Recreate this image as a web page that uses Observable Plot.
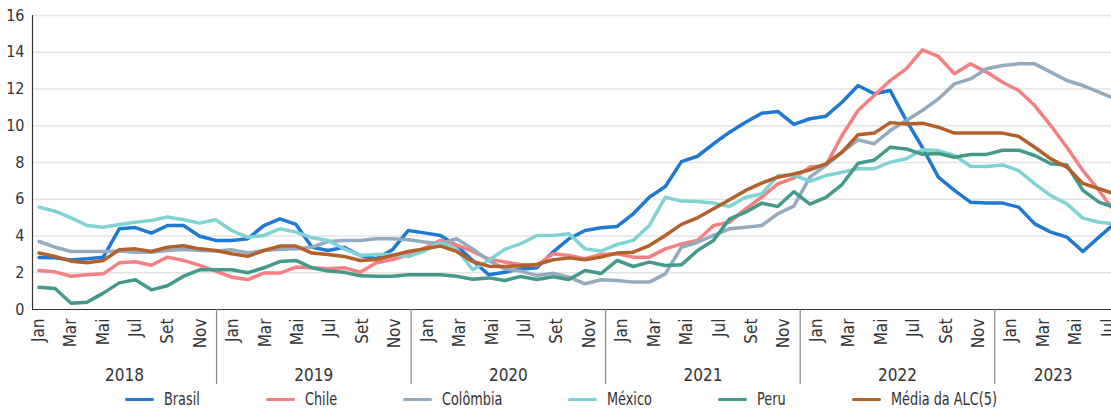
<!DOCTYPE html>
<html>
<head>
<meta charset="utf-8">
<script src="https://cdn.jsdelivr.net/npm/d3@7"></script>
<script src="https://cdn.jsdelivr.net/npm/@observablehq/plot@0.6"></script>
<style>
  html, body { margin: 0; padding: 0; background: #fff; }
  body { font-family: "Liberation Sans Narrow", "DejaVu Sans Condensed", "Liberation Sans", sans-serif; color: #333; width: 1111px; overflow: hidden; }
  #chart svg { display: block; }
  #legend { display: flex; gap: 66px; padding-left: 125px; height: 19px; align-items: center; font-size: 17px; line-height: 19px; white-space: nowrap; }
  #legend .item { display: flex; align-items: center; gap: 10px; }
  #legend .sw { width: 29px; height: 3.5px; border-radius: 2px; }
  #legend .tx { display: inline-block; transform-origin: 0 50%; }
</style>
</head>
<body>
<div id="chart"></div>
<div id="legend"></div>
<script>
// ---- data (12-month inflation, %), Jan 2018 – Aug 2023 ----
const series = ["Brasil", "Chile", "Colômbia", "México", "Peru", "Média da ALC(5)"];
const colors = ["#1f78d1", "#f67f7f", "#94abbf", "#80d3d4", "#44998a", "#b3602b"];
const monthNames = ["Jan", "Fev", "Mar", "Abr", "Mai", "Jun", "Jul", "Ago", "Set", "Out", "Nov", "Dez"];
const years = [2018, 2019, 2020, 2021, 2022, 2023];
const tickMonths = ["Jan", "Mar", "Mai", "Jul", "Set", "Nov"];
const lastAxisMonth = "Jul 2023";
const yTicks = [0, 2, 4, 6, 8, 10, 12, 14, 16];

const brasil = [
  2.83, 2.81, 2.70, 2.76, 2.85, 4.39, 4.46, 4.16, 4.57, 4.57, 3.99, 3.76,
  3.76, 3.85, 4.57, 4.93, 4.63, 3.39, 3.21, 3.39, 2.94, 2.76, 3.25, 4.30,
  4.17, 4.03, 3.48, 2.67, 1.89, 2.03, 2.21, 2.27, 3.12, 3.85, 4.30, 4.45,
  4.52, 5.21, 6.11, 6.69, 8.05, 8.34, 9.02, 9.65, 10.19, 10.68, 10.78, 10.07,
  10.38, 10.52, 11.28, 12.19, 11.74, 11.92, 10.29, 8.83, 7.20, 6.48, 5.84, 5.80,
  5.79, 5.57, 4.66, 4.21, 3.94, 3.16, 3.94, 4.70
];
const chile = [
  2.12, 2.05, 1.81, 1.89, 1.94, 2.54, 2.60, 2.41, 2.85, 2.67, 2.40, 2.09,
  1.76, 1.63, 1.98, 1.98, 2.31, 2.27, 2.22, 2.27, 2.03, 2.54, 2.72, 2.98,
  3.34, 3.76, 3.52, 3.16, 2.74, 2.58, 2.45, 2.40, 3.03, 2.94, 2.76, 2.99,
  3.03, 2.85, 2.85, 3.30, 3.57, 3.76, 4.57, 4.75, 5.48, 6.11, 6.84, 7.15,
  7.75, 7.84, 9.47, 10.83, 11.65, 12.46, 13.10, 14.13, 13.77, 12.83, 13.37, 12.92,
  12.37, 11.92, 11.10, 10.01, 8.83, 7.56, 6.48, 5.30
];
const colombia = [
  3.70, 3.39, 3.16, 3.16, 3.16, 3.18, 3.12, 3.12, 3.21, 3.27, 3.21, 3.18,
  3.25, 3.07, 3.21, 3.28, 3.30, 3.39, 3.70, 3.76, 3.76, 3.85, 3.85, 3.80,
  3.67, 3.58, 3.85, 3.30, 2.67, 2.21, 2.09, 1.85, 1.98, 1.76, 1.40, 1.62,
  1.58, 1.49, 1.49, 1.94, 3.39, 3.66, 4.03, 4.39, 4.48, 4.57, 5.21, 5.63,
  7.20, 7.84, 8.56, 9.23, 9.02, 9.74, 10.29, 10.83, 11.46, 12.28, 12.55, 13.10,
  13.28, 13.37, 13.37, 12.92, 12.46, 12.19, 11.83, 11.46
];
const mexico = [
  5.57, 5.35, 4.99, 4.57, 4.48, 4.63, 4.75, 4.85, 5.03, 4.88, 4.70, 4.88,
  4.30, 3.93, 4.03, 4.39, 4.21, 3.90, 3.76, 3.30, 2.94, 2.99, 2.99, 2.88,
  3.18, 3.63, 3.30, 2.16, 2.67, 3.27, 3.58, 4.03, 4.03, 4.12, 3.30, 3.18,
  3.54, 3.76, 4.57, 6.11, 5.90, 5.88, 5.79, 5.61, 6.11, 6.29, 7.29, 7.31,
  6.98, 7.29, 7.47, 7.66, 7.66, 8.02, 8.20, 8.69, 8.65, 8.38, 7.80, 7.78,
  7.87, 7.56, 6.84, 6.20, 5.75, 4.97, 4.75, 4.66
];
const peru = [
  1.21, 1.14, 0.34, 0.40, 0.89, 1.45, 1.62, 1.07, 1.29, 1.81, 2.16, 2.16,
  2.16, 2.00, 2.27, 2.61, 2.67, 2.27, 2.09, 2.03, 1.83, 1.81, 1.81, 1.89,
  1.89, 1.89, 1.81, 1.65, 1.72, 1.58, 1.80, 1.63, 1.78, 1.63, 2.12, 1.96,
  2.67, 2.34, 2.58, 2.39, 2.43, 3.21, 3.76, 4.93, 5.30, 5.79, 5.61, 6.41,
  5.73, 6.10, 6.80, 7.96, 8.13, 8.83, 8.74, 8.45, 8.49, 8.29, 8.44, 8.44,
  8.67, 8.67, 8.38, 7.93, 7.87, 6.48, 5.84, 5.55
];
const media = [
  3.07, 2.89, 2.63, 2.54, 2.67, 3.25, 3.30, 3.16, 3.39, 3.47, 3.30, 3.21,
  3.03, 2.89, 3.21, 3.45, 3.45, 3.07, 2.99, 2.89, 2.67, 2.72, 2.94, 3.16,
  3.30, 3.45, 3.16, 2.61, 2.36, 2.34, 2.38, 2.45, 2.70, 2.81, 2.70, 2.85,
  3.07, 3.12, 3.48, 4.03, 4.63, 4.99, 5.48, 5.97, 6.48, 6.88, 7.20, 7.38,
  7.60, 7.93, 8.56, 9.51, 9.60, 10.17, 10.10, 10.14, 9.92, 9.60, 9.60, 9.60,
  9.60, 9.42, 8.83, 8.20, 7.75, 6.86, 6.57, 6.29
];
const values = [brasil, chile, colombia, mexico, peru, media];

// ---- tidy table ----
const table = [];
values.forEach((arr, s) => arr.forEach((v, i) => table.push({
  series: series[s], i, month: `${monthNames[i % 12]} ${years[Math.floor(i / 12)]}`, v
})));

// axis categories: Jan 2018 .. lastAxisMonth
const axisMonths = [];
for (const y of years) for (const m of monthNames) axisMonths.push(`${m} ${y}`);
const nAxis = axisMonths.indexOf(lastAxisMonth) + 1;

// layout helpers (category labels are slightly wider-spaced than the data points)
const xDomain = [-0.405, 66.78];
const L = i => 1.0095 * i - 0.05;
const squeeze = 0.84; // condensed look for year labels and legend

const tickData = axisMonths.slice(0, nAxis)
  .map((label, i) => ({i, label: label.split(" ")[0]}))
  .filter(d => tickMonths.includes(d.label));

const seps = years.slice(1).map((y, k) => L(12 * (k + 1) - 1));
const bounds = [xDomain[0], ...seps, xDomain[1]];
const yearData = years.map((y, k) => ({year: String(y), x: (bounds[k] + bounds[k + 1]) / 2}));

const font = '"Liberation Sans Narrow", "DejaVu Sans Condensed", "Liberation Sans", sans-serif';

const chart = Plot.plot({
  width: 1111,
  height: 390,
  marginLeft: 32,
  marginRight: 0,
  marginTop: 15,
  marginBottom: 81,
  x: {domain: xDomain, axis: null},
  y: {domain: [0, 16], axis: null},
  color: {domain: series, range: colors},
  style: {fontFamily: font, color: "#333", background: "white", overflow: "hidden"},
  marks: [
    Plot.gridY(yTicks.filter(d => d > 0), {stroke: "#e4e4e4", strokeOpacity: 1, strokeWidth: 1.5}),
    Plot.axisY(yTicks, {tickSize: 0, tickPadding: 8, fontSize: 16, label: null, tickFormat: d => String(d), fill: "#333"}),
    Plot.lineY(table, {x: "i", y: "v", z: "series", stroke: "series", strokeWidth: 3.5, clip: true, strokeLinejoin: "round"}),
    Plot.ruleX([xDomain[0]], {y1: 0, y2: 16, stroke: "#333", strokeWidth: 1.2}),
    Plot.ruleY([0], {stroke: "#333", strokeWidth: 1.2}),
    Plot.ruleX(seps, {x: d => d, y1: 0, y2: 0, insetBottom: -75, stroke: "#888", strokeWidth: 1.2}),
    Plot.text(tickData, {x: d => L(d.i), y: () => 0, text: "label", rotate: -90, textAnchor: "end", lineAnchor: "middle", dy: 9, fontSize: 17, fill: "#333", ariaLabel: "month"}),
    Plot.text(yearData, {x: "x", y: () => 0, text: "year", lineAnchor: "middle", dy: 66, fontSize: 17, fill: "#333", ariaLabel: "year"})
  ]
});
document.getElementById("chart").append(chart);

// condense year labels
d3.select(chart).selectAll('g[aria-label="year"] text').each(function () {
  const w = this.getComputedTextLength();
  this.setAttribute("textLength", w * squeeze);
  this.setAttribute("lengthAdjust", "spacingAndGlyphs");
});

// ---- legend ----
const legend = document.getElementById("legend");
series.forEach((s, k) => {
  const item = document.createElement("div");
  item.className = "item";
  const sw = document.createElement("span");
  sw.className = "sw";
  sw.style.background = colors[k];
  const tx = document.createElement("span");
  tx.className = "tx";
  tx.textContent = s;
  item.append(sw, tx);
  legend.append(item);
  tx.style.transform = `scaleX(${squeeze})`;
  tx.style.marginRight = `${-(1 - squeeze) * tx.offsetWidth}px`;
});
</script>
</body>
</html>
